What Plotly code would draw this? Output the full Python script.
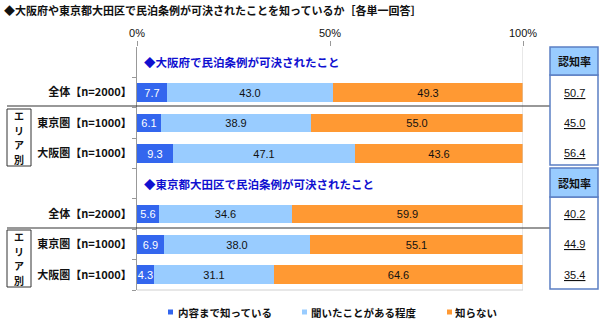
import plotly.graph_objects as go

# ---- data ----
labels = ["全体【n=2000】", "東京圏【n=1000】", "大阪圏【n=1000】",
          "全体【n=2000】", "東京圏【n=1000】", "大阪圏【n=1000】"]
know_detail = [7.7, 6.1, 9.3, 5.6, 6.9, 4.3]
heard_only = [43.0, 38.9, 47.1, 34.6, 38.0, 31.1]
not_know = [49.3, 55.0, 43.6, 59.9, 55.1, 64.6]
awareness = [50.7, 45.0, 56.4, 40.2, 44.9, 35.4]
series_names = ["内容まで知っている", "聞いたことがある程度", "知らない"]
section_titles = ["◆大阪府で民泊条例が可決されたこと", "◆東京都大田区で民泊条例が可決されたこと"]
title_text = "◆大阪府や東京都大田区で民泊条例が可決されたことを知っているか［各単一回答］"
area_chars = ["エ", "リ", "ア", "別"]
x_ticks = [0, 50, 100]
x_ticktext = ["0%", "50%", "100%"]

# slot positions (0 and 4 are section-title rows)
rows = [1, 2, 3, 5, 6, 7]
title_slots = [0, 4]

colors = ["#3366EE", "#99CCFF", "#FF9933"]
text_colors = ["white", "#111111", "#111111"]

JP = "Noto Sans CJK JP"
NUM = "Liberation Sans"

W, H = 600, 334
L, R, T, B = 137, 523, 47, 290


def px(x):
    return (x - L) / (R - L)


def py(y):
    return (B - y) / (B - T)


fig = go.Figure()
for name, vals, c, tc in zip(series_names, [know_detail, heard_only, not_know], colors, text_colors):
    fig.add_trace(go.Bar(
        orientation="h", x=vals, y=rows, name=name, width=0.62,
        marker=dict(color=c, line=dict(width=0)),
        text=[f"{v:.1f}" for v in vals], textposition="inside",
        insidetextanchor="middle", textangle=0,
        textfont=dict(color=tc, size=11, family=NUM),
        showlegend=False, hoverinfo="skip",
    ))

shapes = []
# plot frame (right & bottom light grey)
shapes.append(dict(type="line", xref="x", yref="paper", x0=100, x1=100, y0=0, y1=1,
                   line=dict(color="#D0D0D0", width=1)))
shapes.append(dict(type="line", xref="x", yref="paper", x0=0, x1=100, y0=0, y1=0,
                   line=dict(color="#D0D0D0", width=1)))
# separators
for yy in [106, 228]:
    shapes.append(dict(type="line", xref="paper", yref="paper", x0=px(7), x1=px(598),
                       y0=py(yy), y1=py(yy), line=dict(color="#333333", width=1.2)))
# エリア別 boxes
area_boxes = [(109, 166), (230, 287)]
for y0, y1 in area_boxes:
    shapes.append(dict(type="rect", xref="paper", yref="paper", x0=px(7), x1=px(31),
                       y0=py(y1), y1=py(y0), line=dict(color="#333333", width=1)))
# awareness tables
for (h0, h1, b1) in [(47, 75, 165), (168, 197, 289)]:
    shapes.append(dict(type="rect", xref="paper", yref="paper", x0=px(550), x1=px(598),
                       y0=py(b1), y1=py(h1), fillcolor="white",
                       line=dict(color="#5B7FC4", width=1.5)))
    shapes.append(dict(type="rect", xref="paper", yref="paper", x0=px(550), x1=px(598),
                       y0=py(h1), y1=py(h0), fillcolor="#99CCFF",
                       line=dict(color="#5B7FC4", width=1.5)))
# legend squares
leg_sq = [168, 302, 447]
for x0, c in zip(leg_sq, colors):
    shapes.append(dict(type="rect", xref="paper", yref="paper", x0=px(x0), x1=px(x0 + 5),
                       y0=py(314.5), y1=py(309.5), fillcolor=c, line=dict(width=0)))

ann = []
ann.append(dict(text=f"<b>{title_text}</b>", xref="paper", yref="paper", x=px(2), y=py(10),
                xanchor="left", yanchor="middle", showarrow=False,
                font=dict(family=JP, size=11, color="#111111")))
for s, t in zip(title_slots, section_titles):
    ann.append(dict(text=f"<b>{t}</b>", xref="x", yref="y", x=0, y=s, xshift=5,
                    xanchor="left", yanchor="middle", showarrow=False,
                    font=dict(family=JP, size=11.5, color="#1010D0")))
# area label (vertical, one character per annotation)
step = 14.6
for y0, y1 in area_boxes:
    cy = (y0 + y1) / 2
    for i, ch in enumerate(area_chars):
        yc = cy + (i - 1.5) * step
        ann.append(dict(text=f"<b>{ch}</b>", xref="paper", yref="paper",
                        x=px(19), y=py(yc), xanchor="center", yanchor="middle",
                        showarrow=False, borderpad=0,
                        font=dict(family=JP, size=10, color="#111111")))
# table headers
for yc in [61, 182.5]:
    ann.append(dict(text="<b>認知率</b>", xref="paper", yref="paper", x=px(574), y=py(yc),
                    xanchor="center", yanchor="middle", showarrow=False,
                    font=dict(family=JP, size=11, color="#111111")))
# awareness values
for r, v in zip(rows, awareness):
    ann.append(dict(text=f"<u>{v:.1f}</u>", xref="paper", yref="y", x=px(574), y=r,
                    xanchor="center", yanchor="middle", showarrow=False,
                    font=dict(family=NUM, size=11, color="#111111")))
# legend text
for x0, n in zip([176, 309, 453], series_names):
    ann.append(dict(text=f"<b>{n}</b>", xref="paper", yref="paper", x=px(x0), y=py(312),
                    xanchor="left", yanchor="middle", showarrow=False,
                    font=dict(family=JP, size=10.5, color="#111111")))

fig.update_layout(
    width=W, height=H, margin=dict(l=L, r=W - R, t=T, b=H - B),
    barmode="stack", bargap=0, plot_bgcolor="white", paper_bgcolor="white",
    shapes=shapes, annotations=ann,
    uniformtext=dict(minsize=11, mode="show"),
    xaxis=dict(side="top", range=[0, 100], tickmode="array", tickvals=x_ticks,
               ticktext=x_ticktext, ticks="outside", ticklen=5, tickcolor="#999999",
               showgrid=False, zeroline=False, showline=False,
               tickfont=dict(family=NUM, size=11, color="#111111"), fixedrange=True),
    yaxis=dict(range=[7.5, -0.5], tickmode="array", tickvals=rows,
               ticktext=[f"<b>{t}</b>" for t in labels], ticks="",
               showgrid=False, zeroline=False, showline=True, linecolor="#999999", linewidth=1,
               ticklabelstandoff=2,
               minor=dict(tickvals=[0.5, 1.5, 2.5, 3.5, 4.5, 5.5, 6.5, 7.5], ticks="outside",
                          ticklen=4, tickcolor="#999999"),
               tickfont=dict(family=JP, size=11, color="#111111"), fixedrange=True),
)

fig.write_html("out.html")
